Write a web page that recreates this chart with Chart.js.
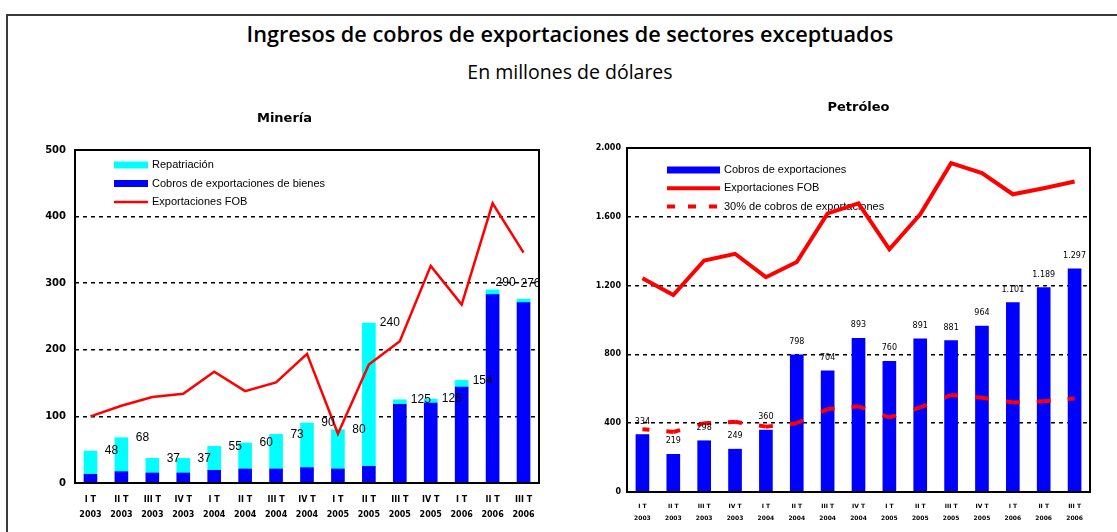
<!DOCTYPE html>
<html>
<head>
<meta charset="utf-8">
<script src="https://cdn.jsdelivr.net/npm/chart.js@4.4.1/dist/chart.umd.min.js"></script>
<style>
  body { margin: 0; background: #fff; width: 1117px; height: 532px; overflow: hidden; position: relative; }
  #frame { position: absolute; left: 6px; top: 14px; width: 1120px; height: 530px;
           border-top: 2px solid #3a3a3a; border-left: 2px solid #3a3a3a; }
  .head { position: absolute; left: 220px; width: 700px; text-align: center; color: #000; white-space: nowrap; }
  #title { top: 19px; font: 600 21.7px "Open Sans", sans-serif; line-height: 30px; }
  #subtitle { top: 58px; font: 400 19.5px "Open Sans", sans-serif; line-height: 28px; }
  .box { position: absolute; top: 100px; height: 432px; }
</style>
</head>
<body>
<div id="frame"></div>
<div class="head" id="title">Ingresos de cobros de exportaciones de sectores exceptuados</div>
<div class="head" id="subtitle">En millones de dólares</div>
<div class="box" style="left:30px;width:530px"><canvas id="chart1" width="530" height="432"></canvas></div>
<div class="box" style="left:560px;width:557px"><canvas id="chart2" width="557" height="432"></canvas></div>
<script>
// quarters, 2003 - 2006
var quarters = ["I T","II T","III T","IV T","I T","II T","III T","IV T","I T","II T","III T","IV T","I T","II T","III T"];
var years = ["2003","2003","2003","2003","2004","2004","2004","2004","2005","2005","2005","2005","2006","2006","2006"];

// Minería (millones de dólares)
var minCobros = [13, 17, 15, 15, 19, 21, 21, 23, 21, 25, 118, 120, 144, 283, 271];
var minRepatriacion = [35, 51, 22, 22, 36, 39, 52, 67, 59, 215, 7, 6, 10, 7, 5];
var minFOB = [100, 116, 129, 134, 167, 138, 151, 194, 74, 178, 213, 326, 268, 420, 346];

// Petróleo (millones de dólares)
var petCobros = [334, 219, 298, 249, 360, 798, 704, 893, 760, 891, 881, 964, 1101, 1189, 1297];
var petFOB = [1243, 1145, 1346, 1385, 1249, 1337, 1620, 1678, 1411, 1615, 1912, 1854, 1731, 1766, 1805];
var pet30 = [365, 349, 400, 408, 380, 400, 482, 498, 433, 492, 564, 548, 521, 527, 544];

var labels = quarters.map(function (q, i) { return [q, years[i]]; });

function miles(n) { return String(n).replace(/\B(?=(\d{3})+(?!\d))/g, '.'); }

function gridColor(max) {
    return function (c) {
        if (!c.tick || c.tick.value === 0 || c.tick.value === max) return 'rgba(0,0,0,0)';
        return '#000';
    };
}

// black box round the plot
var framePlugin = {
    id: 'frame',
    afterDraw: function (chart) {
        var a = chart.chartArea, ctx = chart.ctx;
        ctx.save();
        ctx.strokeStyle = '#000';
        ctx.lineWidth = 2;
        ctx.strokeRect(a.left, a.top, a.right - a.left, a.bottom - a.top);
        ctx.restore();
    }
};

// legend drawn inside the plot, like the excel one
var boxLegend = {
    id: 'boxLegend',
    beforeDatasetsDraw: function (chart, args, opts) {
        var a = chart.chartArea, ctx = chart.ctx;
        ctx.save();
        ctx.font = '11px "Liberation Sans", Arial, sans-serif';
        ctx.textBaseline = 'middle';
        ctx.fillStyle = '#000';
        opts.items.forEach(function (it, k) {
            var ds = chart.data.datasets[it.ds];
            var x = a.left + opts.x, y = a.top + opts.y + k * opts.dy;
            if (it.kind === 'bar') {
                ctx.fillStyle = ds.backgroundColor;
                ctx.fillRect(x, y - 3.5, opts.w, 7);
            } else {
                ctx.strokeStyle = ds.borderColor;
                ctx.lineWidth = ds.borderWidth;
                ctx.setLineDash(it.dash || []);
                ctx.beginPath();
                ctx.moveTo(x, y);
                ctx.lineTo(x + opts.w, y);
                ctx.stroke();
                ctx.setLineDash([]);
            }
            ctx.fillStyle = '#000';
            ctx.fillText(ds.label, x + opts.w + 4, y);
        });
        ctx.restore();
    }
};

// value labels
var minLabels = {
    id: 'minLabels',
    afterDatasetsDraw: function (chart) {
        var ctx = chart.ctx;
        var meta = chart.getDatasetMeta(2);
        var shift = { 13: [-8, -7], 14: [-14, -15] };
        ctx.save();
        ctx.font = '12px "Liberation Sans", Arial, sans-serif';
        ctx.fillStyle = '#000';
        ctx.textAlign = 'center';
        ctx.textBaseline = 'middle';
        meta.data.forEach(function (bar, i) {
            var s = shift[i] || [0, 0];
            ctx.fillText(minCobros[i] + minRepatriacion[i], bar.x + 21 + s[0], bar.y + s[1]);
        });
        ctx.restore();
    }
};

var petLabels = {
    id: 'petLabels',
    afterDatasetsDraw: function (chart) {
        var ctx = chart.ctx;
        var meta = chart.getDatasetMeta(2);
        ctx.save();
        ctx.font = '8px "DejaVu Sans", sans-serif';
        ctx.fillStyle = '#000';
        ctx.textAlign = 'center';
        ctx.textBaseline = 'middle';
        meta.data.forEach(function (bar, i) {
            ctx.fillText(miles(petCobros[i]), bar.x, bar.y - 13);
        });
        ctx.restore();
    }
};

var chart1 = new Chart(document.getElementById('chart1').getContext('2d'), {
    data: {
        labels: labels,
        datasets: [{
            type: 'line',
            label: 'Exportaciones FOB',
            data: minFOB,
            borderColor: '#FF0000',
            borderWidth: 2.5,
            pointRadius: 0,
            tension: 0,
            stack: 'fob'
        }, {
            type: 'bar',
            label: 'Cobros de exportaciones de bienes',
            data: minCobros,
            backgroundColor: '#0000FF',
            barThickness: 13,
            stack: 'bars'
        }, {
            type: 'bar',
            label: 'Repatriación',
            data: minRepatriacion,
            backgroundColor: '#00FFFF',
            barThickness: 13,
            stack: 'bars'
        }]
    },
    options: {
        responsive: false,
        animation: false,
        devicePixelRatio: 1,
        layout: { padding: { right: 21 } },
        plugins: {
            legend: { display: false },
            tooltip: { enabled: false },
            title: {
                display: true,
                text: 'Minería',
                color: '#000',
                font: { family: '"DejaVu Sans"', size: 13, weight: 'bold', lineHeight: 1.2 },
                padding: { top: 11, bottom: 23.4 }
            },
            boxLegend: {
                x: 39, y: 15, dy: 18.5, w: 34,
                items: [{ ds: 2, kind: 'bar' }, { ds: 1, kind: 'bar' }, { ds: 0, kind: 'line' }]
            }
        },
        scales: {
            x: {
                stacked: true,
                grid: { display: false, drawTicks: false },
                border: { display: false },
                ticks: {
                    color: '#000',
                    padding: 9.5,
                    maxRotation: 0,
                    autoSkip: false,
                    font: { family: '"DejaVu Sans"', size: 8, weight: 'bold', lineHeight: 1.875 }
                },
                afterFit: function (s) { s.height = 49; }
            },
            y: {
                stacked: true,
                min: 0, max: 500,
                ticks: {
                    stepSize: 100,
                    color: '#000',
                    padding: 9,
                    font: { family: '"DejaVu Sans"', size: 10, weight: 'bold' }
                },
                grid: { color: gridColor(500), lineWidth: 1.5, drawTicks: false },
                border: { display: false, dash: [4, 4] },
                afterFit: function (s) { s.width = 45; }
            }
        }
    },
    plugins: [boxLegend, minLabels, framePlugin]
});

var chart2 = new Chart(document.getElementById('chart2').getContext('2d'), {
    data: {
        labels: labels,
        datasets: [{
            type: 'line',
            label: 'Exportaciones FOB',
            data: petFOB,
            borderColor: '#FF0000',
            borderWidth: 4,
            pointRadius: 0,
            tension: 0
        }, {
            type: 'line',
            label: '30% de cobros de exportaciones',
            data: pet30,
            borderColor: '#FF0000',
            borderWidth: 4,
            pointRadius: 0,
            tension: 0,
            segment: {
                // short dash centred on every quarter
                borderDash: function (c) {
                    var len = Math.hypot(c.p1.x - c.p0.x, c.p1.y - c.p0.y);
                    return [7, len - 14, 7, 2000 + c.p0DataIndex];
                }
            }
        }, {
            type: 'bar',
            label: 'Cobros de exportaciones',
            data: petCobros,
            backgroundColor: '#0000FF',
            barThickness: 13
        }]
    },
    options: {
        responsive: false,
        animation: false,
        devicePixelRatio: 1,
        layout: { padding: { right: 27 } },
        plugins: {
            legend: { display: false },
            tooltip: { enabled: false },
            title: {
                display: true,
                fullSize: false,
                text: 'Petróleo',
                color: '#000',
                font: { family: '"DejaVu Sans"', size: 13, weight: 'bold', lineHeight: 1.2 },
                padding: { top: 0, bottom: 32.4 }
            },
            boxLegend: {
                x: 40, y: 22, dy: 18.3, w: 53,
                items: [{ ds: 2, kind: 'bar' }, { ds: 0, kind: 'line' }, { ds: 1, kind: 'line', dash: [8, 13] }]
            }
        },
        scales: {
            x: {
                grid: { display: false, drawTicks: false },
                border: { display: false },
                ticks: {
                    color: '#000',
                    padding: 8,
                    maxRotation: 0,
                    autoSkip: false,
                    font: { family: '"DejaVu Sans"', size: 6, weight: 'bold', lineHeight: 2 }
                },
                afterFit: function (s) { s.height = 40; }
            },
            y: {
                min: 0, max: 2000,
                ticks: {
                    stepSize: 400,
                    color: '#000',
                    padding: 6,
                    font: { family: '"DejaVu Sans"', size: 8, weight: 'bold' },
                    callback: function (v) { return miles(v); }
                },
                grid: { color: gridColor(2000), lineWidth: 1.5, drawTicks: false },
                border: { display: false, dash: [4, 4] },
                afterFit: function (s) { s.width = 67; }
            }
        }
    },
    plugins: [boxLegend, petLabels, framePlugin]
});
</script>
</body>
</html>
